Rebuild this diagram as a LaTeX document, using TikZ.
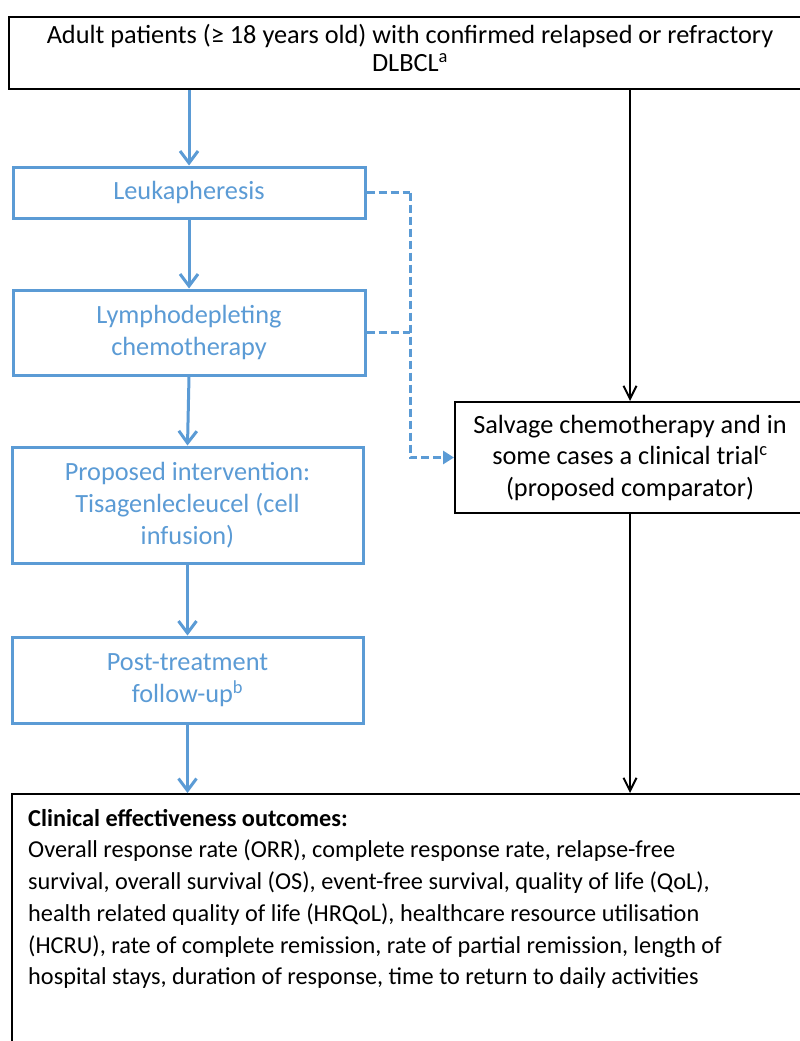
\documentclass[tikz,border=0pt]{standalone}
\usepackage{fontspec}
\setmainfont{Carlito}
\usetikzlibrary{arrows.meta}
\definecolor{flowblue}{HTML}{5B9BD5}
\tikzset{
  bluebox/.style={draw=flowblue, line width=3pt, text=flowblue, align=center,
    inner sep=0pt, font=\fontsize{26.3}{32.3}\selectfont},
  blackbox/.style={draw=black, line width=2pt, align=center, inner sep=0pt,
    font=\fontsize{26.3}{31.5}\selectfont},
  bluearrow/.style={draw=flowblue, line width=3pt,
    -{Straight Barb[length=12pt,width=18pt,line width=3pt]}},
  blackarrow/.style={draw=black, line width=2pt,
    -{Straight Barb[length=13pt,width=13pt,line width=2pt]}},
  bluedash/.style={draw=flowblue, line width=3pt, dash pattern=on 8pt off 4pt},
  bluedasharrow/.style={bluedash, -{Triangle[length=11pt,width=13pt]}}
}
\begin{document}
\begin{tikzpicture}[x=1pt,y=-1pt]
\useasboundingbox (0,0) rectangle (800,1041);
\fill[white] (0,0) rectangle (800,1041);

% patient population
\node[blackbox, minimum width=802pt, minimum height=72pt] (pop) at (410,53) {};
\node[align=center, inner sep=0pt, font=\fontsize{26.3}{28}\selectfont]
  (poptext) at (410,48)
  {Adult patients (≥ 18 years old) with confirmed relapsed or refractory\\
   DLBCL\textsuperscript{a}};

% intervention pathway
\node[bluebox, minimum width=352pt, minimum height=51pt] (leuk) at (189,192.5)
  {Leukapheresis};
\node[bluebox, minimum width=352pt, minimum height=85pt] (lymph) at (189,332.5)
  {Lymphodepleting\\chemotherapy};
\node[bluebox, minimum width=351pt, minimum height=116pt] (interv) at (187.5,505)
  {Proposed intervention:\\Tisagenlecleucel (cell\\infusion)};
\node[bluebox, minimum width=351pt, minimum height=86pt] (follow) at (187.5,680)
  {Post-treatment\\follow-up\textsuperscript{b}};

% comparator
\node[blackbox, minimum width=350pt, minimum height=111pt] (salv) at (630,457.5)
  {Salvage chemotherapy and in\\some cases a clinical trial\textsuperscript{c}\\(proposed comparator)};

% outcomes
\node[draw=black, line width=2pt, minimum width=802pt, minimum height=270pt,
  anchor=north west, inner sep=0pt] (outc) at (11,793) {};
\node[anchor=north west, align=left, inner sep=0pt,
  font=\fontsize{24.3}{31.7}\selectfont] (outtext) at (28,809)
  {\textbf{Clinical effectiveness outcomes:}\\
   Overall response rate (ORR), complete response rate, relapse-free\\
   survival, overall survival (OS), event-free survival, quality of life (QoL),\\
   health related quality of life (HRQoL), healthcare resource utilisation\\
   (HCRU), rate of complete remission, rate of partial remission, length of\\
   hospital stays, duration of response, time to return to daily activities};

% junction of the dashed links
\coordinate (jn) at (410,192.5);

% connectors
\draw[bluearrow] (pop.south -| leuk.north) -- (leuk.north);
\draw[bluearrow] (leuk.south) -- (lymph.north);
\draw[bluearrow] (lymph.south) -- (interv.north);
\draw[bluearrow] (interv.south) -- (follow.north);
\draw[bluearrow] (follow.south) -- (follow.south |- outc.north);

\draw[bluedash] (leuk.east) -- (jn);
\draw[bluedash] (lymph.east) -- (lymph.east -| jn);
\draw[bluedasharrow] (jn) -- (jn |- salv.west) -- (salv.west);

\draw[blackarrow] (pop.south -| salv.north) -- (salv.north);
\draw[blackarrow] (salv.south) -- (salv.south |- outc.north);
\end{tikzpicture}
\end{document}
